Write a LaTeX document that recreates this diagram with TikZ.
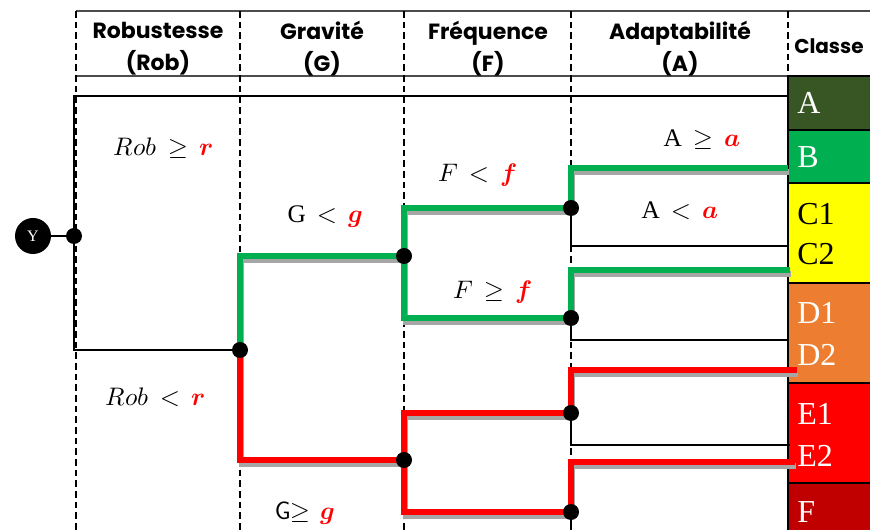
\documentclass[tikz,border=0pt]{standalone}
\usepackage{fontspec}
\usepackage{unicode-math}
\setmainfont{Liberation Serif}
\setmathfont{Latin Modern Math}
\newfontfamily\hdrfont{Poppins}
\usetikzlibrary{positioning,calc}
\definecolor{vert}{HTML}{00B050}
\definecolor{rouge}{HTML}{FF0000}
\definecolor{kaki}{HTML}{375623}
\definecolor{jaune}{HTML}{FFFF00}
\definecolor{orangeD}{HTML}{ED7D31}
\definecolor{bordeaux}{HTML}{C00000}
\definecolor{ombre}{HTML}{A6A6A6}

\tikzset{
  colline/.style={dash pattern=on 5pt off 3pt, line width=0.9pt},
  hdrline/.style={line width=1.2pt, draw=black!70},
  branch/.style={line width=4pt, preaction={draw=ombre, line width=4pt, transform canvas={xshift=1pt, yshift=-3pt}}},
  thinbr/.style={line width=0.8pt},
  mainbr/.style={line width=1.5pt},
  hdr/.style={font=\hdrfont\bfseries\fontsize{16.5}{24}\selectfont, align=center},
  cond/.style={font=\fontsize{19}{22}\selectfont},
  classlbl/.style={anchor=west, font=\fontsize{24}{26}\selectfont, inner sep=0pt},
}
\newcommand{\seuil}[1]{{\color{red}\symbfit{#1}}}

\begin{document}
\begin{tikzpicture}[x=0.75pt,y=-0.75pt]
\useasboundingbox (0,0) rectangle (870,530);
\clip (0,0) rectangle (870,530);

% classes
\foreach \ya/\yb/\col in {76/130/kaki,130/183/vert,183/283/jaune,283/383/orangeD,383/483/rouge,483/540/bordeaux}
  \filldraw[fill=\col, draw=black, line width=0.8pt] (788,\ya) rectangle (880,\yb);
\foreach \lbl/\ypos/\tcol in {A/103/white,B/157/white,C1/214/black,C2/254/black,D1/313/white,D2/355/white,E1/414/white,E2/456/white,F/512/white}
  \node[classlbl, text=\tcol] (cl\lbl) at (797,\ypos) {\lbl};

% header
\draw[hdrline] (76,11) -- (870,11);
\draw[hdrline] (76,76) -- (788,76);
\foreach \xpos in {76,240,404,571,788}
  \draw[colline] (\xpos,11) -- (\xpos,530);
\foreach \nm/\xpos/\ttl/\abr in {hRob/158/Robustesse/Rob,hG/322/Gravité/G,hF/488/Fréquence/F,hA/680/Adaptabilité/A}
  \node[hdr] (\nm) at (\xpos,49) {\ttl\\(\abr)};
\node[hdr, anchor=west, inner sep=0pt, font=\hdrfont\bfseries\fontsize{15}{18}\selectfont] (hClasse) at (794,46) {Classe};

% tree
\coordinate (root) at (74,236);
\coordinate (rtop) at (74,96);
\coordinate (rbot) at (74,350);
\coordinate (r1) at (240,350);
\coordinate (g1) at (404,256);
\coordinate (g2) at (404,460);
\coordinate (f1) at (571,208);
\coordinate (f2) at (571,318);
\coordinate (f3) at (571,413);
\coordinate (f4) at (571,512);
\coordinate (eA) at (788,96);
\coordinate (eB) at (788,168);
\coordinate (eC1) at (788,246);
\coordinate (eC2) at (790,270);
\coordinate (eD1) at (788,340);
\coordinate (eD2) at (797,370);
\coordinate (eE1) at (790,445);
\coordinate (eE2) at (795,462);
\coordinate (eF) at (571,545);

\node[circle, fill=black, minimum size=27pt, inner sep=0pt, text=white, font=\fontsize{12}{12}\selectfont] (ynode) at (33,236) {Y};
\draw[mainbr] (ynode) -- (root);
\draw[mainbr] (eA) -- (rtop) -- (rbot) -- (r1);
\draw[thinbr] (f1) |- (eC1);
\draw[thinbr] (f2) |- (eD1);
\draw[thinbr] (f3) |- (eE1);
\draw[thinbr] (f4) -- (eF);

\draw[branch, vert] (r1) |- (g1);
\draw[branch, vert] (g1) |- (f1);
\draw[branch, vert] (f1) |- (eB);
\draw[branch, vert] (g1) |- (f2);
\draw[branch, vert] (f2) |- (eC2);
\draw[branch, rouge] (r1) |- (g2);
\draw[branch, rouge] (g2) |- (f3);
\draw[branch, rouge] (f3) |- (eD2);
\draw[branch, rouge] (g2) |- (f4);
\draw[branch, rouge] (f4) |- (eE2);

\foreach \p in {root,r1,g1,g2,f1,f2,f3,f4}
  \fill (\p) circle (6pt);

% conditions
\node[cond] (lRobGe) at (163,148) {$Rob \,\geq\, \seuil{r}$};
\node[cond] (lRobLt) at (155,397) {$Rob \,<\, \seuil{r}$};
\node[cond] (lGLt) at (325,217) {$\mathrm{G} \,<\, \seuil{g}$};
\node[cond] (lGGe) at (305,513) {\textsf{G}$\geq$\, $\seuil{g}$};
\node[cond] (lFLt) at (478,175) {$F \,<\, \seuil{f}$};
\node[cond] (lFGe) at (493,292) {$F \,\geq\, \seuil{f}$};
\node[cond] (lAGe) at (702,140) {$\mathrm{A} \,\geq\, \seuil{a}$};
\node[cond] (lALt) at (680,211) {$\mathrm{A} \,<\, \seuil{a}$};
\end{tikzpicture}
\end{document}
